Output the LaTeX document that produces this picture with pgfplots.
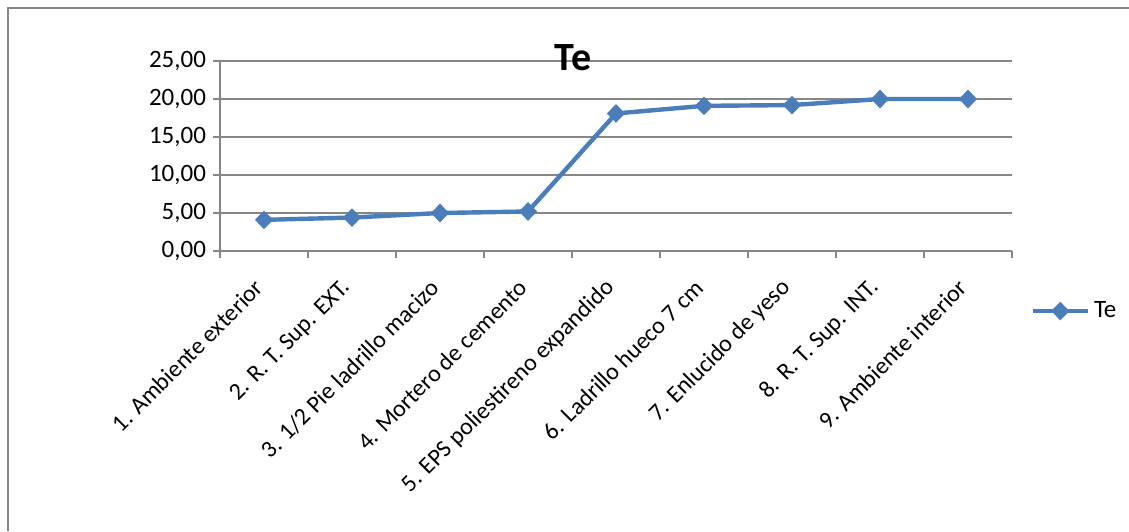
\documentclass[border=0pt]{standalone}
\usepackage{pgfplots}
\pgfplotsset{compat=1.18}
\usepackage{fontspec}
\setmainfont{Carlito}
\definecolor{serie}{RGB}{74,126,187}
\definecolor{eje}{RGB}{134,134,134}
\begin{document}
\begin{tikzpicture}
\useasboundingbox (0pt,0pt) rectangle (564.5pt,-265.5pt);
\draw[eje, line width=1pt] (4pt,-265.5pt) -- (4pt,-4pt) -- (564.5pt,-4pt);
\begin{axis}[
    at={(110pt,-125.5pt)}, anchor=south west,
    width=396pt, height=95pt, scale only axis,
    xmin=0.5, xmax=9.5, ymin=0, ymax=25,
    ytick={0,5,...,25},
    xtick={1,...,9},
    xticklabels={1. Ambiente exterior, 2. R. T. Sup. EXT., 3. 1/2 Pie ladrillo macizo,
      4. Mortero de cemento, 5. EPS poliestireno expandido, 6. Ladrillo hueco 7 cm,
      7. Enlucido de yeso, 8. R. T. Sup. INT., 9. Ambiente interior},
    minor xtick={0.5,1.5,...,9.5},
    major x tick style={draw=none},
    tick align=outside,
    major tick length=3.5pt, minor tick length=3.5pt,
    tick style={eje, line width=1pt},
    axis x line*=bottom, axis y line*=left,
    axis line style={eje, line width=1pt, -},
    ymajorgrids, grid style={eje, line width=1pt},
    yticklabel style={/pgf/number format/.cd, fixed, fixed zerofill, precision=2, use comma, assume math mode=true},
    ticklabel style={font=\fontsize{12.5}{15}\selectfont, text=black},
    xticklabel style={rotate=45, anchor=east, yshift=-7.5pt, xshift=-7.5pt, font=\fontsize{12}{14}\selectfont},
    legend style={at={(1.023,-0.316)}, anchor=west, draw=none, fill=none,
      font=\fontsize{12.5}{15}\selectfont, inner sep=0pt},
    legend image code/.code={\draw[mark repeat=2,mark phase=2,#1] plot coordinates {(0pt,0pt) (13.75pt,0pt) (27.5pt,0pt)};},
    clip=false,
]
\addplot[serie, line width=2.2pt, mark=diamond*, mark size=4.3pt,
  mark options={xscale=1.3, line width=0.5pt}] coordinates {
  (1,4.1) (2,4.4) (3,5.0) (4,5.2) (5,18.1) (6,19.1) (7,19.2) (8,20.0) (9,20.0)
};
\addlegendentry{Te}
\end{axis}
\node[font=\bfseries\fontsize{20}{24}\selectfont] at (286.5pt,-29pt) {Te};
\end{tikzpicture}
\end{document}
